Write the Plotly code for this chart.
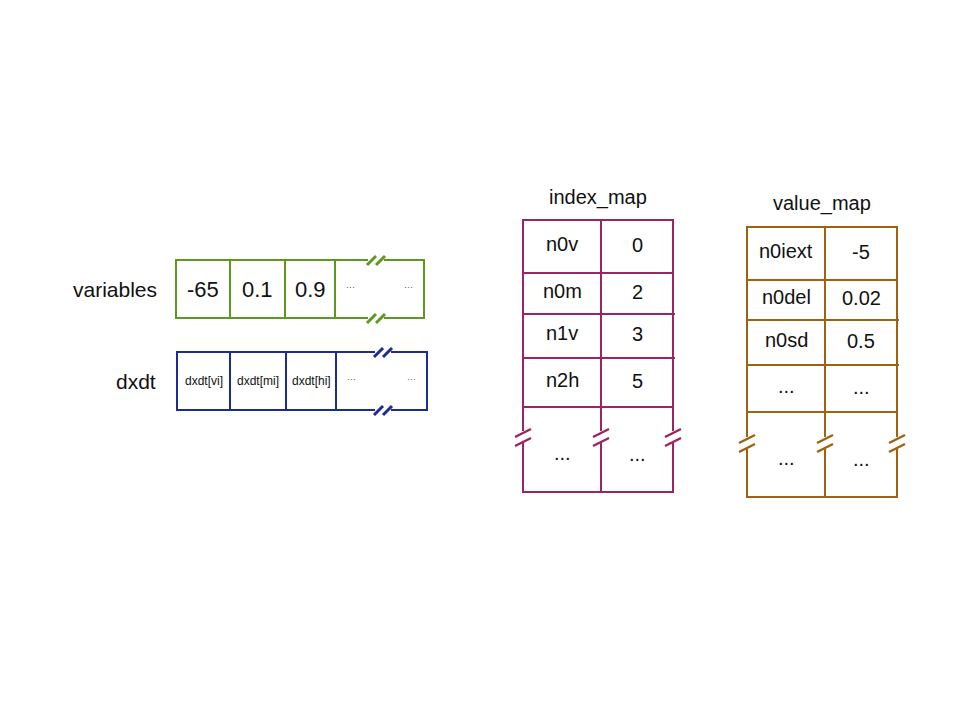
import plotly.graph_objects as go

var_cells = ["-65", "0.1", "0.9", "···", "···"]
dxdt_cells = ["dxdt[vi]", "dxdt[mi]", "dxdt[hi]", "···", "···"]
index_keys = ["n0v", "n0m", "n1v", "n2h", "..."]
index_vals = ["0", "2", "3", "5", "..."]
value_keys = ["n0iext", "n0del", "n0sd", "...", "..."]
value_vals = ["-5", "0.02", "0.5", "...", "..."]

GREEN, BLUE, MAROON, BROWN = "#5b9a1c", "#1c2c94", "#9c2464", "#a0620e"
FONT = "Liberation Sans, Arial, sans-serif"

shapes, ann = [], []

def line(x0, y0, x1, y1, c, w=2):
    shapes.append(dict(type="line", x0=x0, y0=y0, x1=x1, y1=y1, line=dict(color=c, width=w)))

def rect(x0, y0, x1, y1, c):
    shapes.append(dict(type="rect", x0=x0, y0=y0, x1=x1, y1=y1, line=dict(color=c, width=2)))

def text(x, y, s, size, c="#111", xanchor="center"):
    ann.append(dict(x=x, y=y, text=s, showarrow=False, xanchor=xanchor, yanchor="middle",
                    font=dict(size=size, color=c, family=FONT)))

def hbreak(x, y, c):
    line(x - 4, y, x + 12, y, "white", 4)
    for dx in (0, 9):
        line(x + dx - 5, y + 5, x + dx + 4, y - 4, c, 3)

def vbreak(x, y, c):
    line(x, y - 6, x, y + 6, "white", 4)
    for dy in (-4, 5):
        line(x - 8, y + dy + 4, x + 8, y + dy - 4, c, 2.5)

def array(x0, x1, y0, y1, divs, cells, c, size, label, lx, bx):
    rect(x0, y0, x1, y1, c)
    for d in divs:
        line(d, y0, d, y1, c)
    edges = [x0] + divs
    ym = (y0 + y1) / 2
    for i, s in enumerate(cells[:3]):
        text((edges[i] + edges[i + 1]) / 2, ym, s, size)
    text(divs[-1] + 15, ym - 2, cells[3], 9, "#555")
    text(x1 - 16, ym - 2, cells[4], 9, "#555")
    hbreak(bx, y0, c)
    hbreak(bx, y1, c)
    text(lx, ym, label, 21, xanchor="right")

array(176, 424, 260, 318, [230, 285, 335], var_cells, GREEN, 22, "variables", 159, 372)
array(177, 427, 352, 410, [230, 286, 336], dxdt_cells, BLUE, 12, "dxdt", 158, 379)

def table(xl, xd, xr, ys, keys, vals, c, brk_y, title, ty, ext_rows, sizes):
    rect(xl, ys[0], xr, ys[-1], c)
    line(xd, ys[0], xd, ys[-1], c)
    for i, y in enumerate(ys[1:-1]):
        line(xl, y, xr + (2 if (i + 1) in ext_rows else 0), y, c)
    for i in range(len(keys)):
        ym = (ys[i] + ys[i + 1]) / 2 + (6 if i == len(keys) - 1 else 0)
        text((xl + xd) / 2, ym - 3, keys[i], sizes)
        text((xd + xr) / 2, ym - 2, vals[i], sizes)
    for x in (xl, xd, xr):
        vbreak(x, brk_y, c)
    text((xl + xr) / 2, ty, title, 20)

table(523, 601, 673, [220, 273, 314, 358, 407, 492], index_keys, index_vals, MAROON, 437,
      "index_map", 197, [2, 3], 20)
table(747, 825, 897, [227, 280, 320, 365, 412, 497], value_keys, value_vals, BROWN, 443,
      "value_map", 203, [2, 3], 20)

fig = go.Figure()
fig.update_layout(
    width=960, height=720, margin=dict(l=0, r=0, t=0, b=0),
    paper_bgcolor="white", plot_bgcolor="white", showlegend=False,
    xaxis=dict(range=[8, 968], visible=False, fixedrange=True),
    yaxis=dict(range=[728, 8], visible=False, fixedrange=True),
    shapes=shapes, annotations=ann,
)
fig.write_html("out.html")
